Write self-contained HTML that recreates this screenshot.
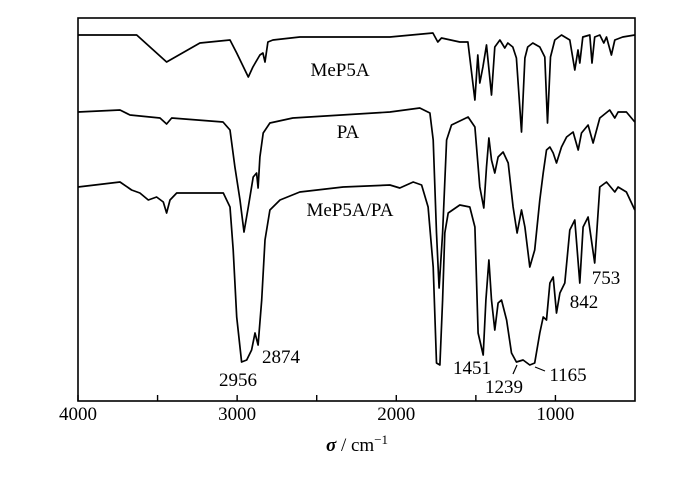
<!DOCTYPE html>
<html><head><meta charset="utf-8">
<style>
html,body{margin:0;padding:0;background:#fff;}
svg{display:block;}
text{font-family:"Liberation Serif","Times New Roman",serif;fill:#000;}
</style></head>
<body>
<svg id="chart" width="700" height="481" viewBox="0 0 700 481" xmlns="http://www.w3.org/2000/svg">
<g id="curves"></g>
<rect x="78" y="18" width="557" height="383" fill="none" stroke="#000" stroke-width="1.6"/>
<g id="xaxis"></g>
<text x="357" y="451" font-size="19" text-anchor="middle"><tspan font-style="italic" font-weight="bold">σ</tspan> / cm<tspan dy="-7" font-size="13">−1</tspan></text>
<g id="labels"></g>
</svg>
<script>
// wavenumber (cm^-1) and transmittance-like values (arbitrary offset units)
const mep5aWn = [4000,3631,3443,3234,3045,3003,2930,2901,2857,2838,2825,2807,2775,2606,2040,1770,1739,1716,1601,1550,1506,1488,1475,1456,1433,1402,1381,1349,1318,1299,1268,1245,1213,1192,1174,1142,1098,1067,1050,1031,1004,962,910,878,858,847,828,784,770,753,721,696,679,648,627,577,501];
const mep5aT  = [366,366,339,358,361,348,324,334,346,348,339,359,361,364,364,368,359,363,359,359,301,346,318,334,356,306,354,361,353,358,354,343,269,343,354,358,354,344,278,344,361,366,361,331,351,338,364,366,338,364,366,358,364,346,361,364,366];
const paWn = [4000,3736,3673,3485,3443,3411,3089,3045,3014,2982,2957,2930,2899,2878,2868,2857,2836,2794,2650,2040,1852,1789,1768,1747,1731,1709,1684,1653,1549,1506,1475,1450,1433,1418,1402,1381,1360,1329,1297,1266,1241,1213,1192,1161,1130,1098,1077,1056,1035,1014,993,962,930,889,857,836,795,763,721,659,627,606,554,501];
const paT  = [289,291,286,283,277,283,279,271,234,201,169,194,224,228,213,244,268,278,283,289,293,288,261,168,113,168,261,276,284,274,214,193,234,263,241,228,244,249,238,194,168,191,174,134,151,201,228,251,254,248,238,254,264,269,251,268,276,258,283,291,283,289,289,279];
const mixWn = [4000,3736,3663,3611,3558,3506,3464,3443,3422,3380,3087,3045,3025,3003,2972,2940,2909,2888,2868,2846,2825,2794,2731,2606,2334,2040,1978,1894,1841,1800,1768,1747,1726,1709,1695,1674,1601,1538,1506,1486,1454,1437,1418,1402,1381,1360,1339,1307,1276,1245,1203,1161,1130,1098,1077,1056,1035,1014,993,972,941,910,878,847,826,795,753,721,679,627,606,554,501];
const mixT  = [214,219,211,208,201,204,199,188,201,208,208,194,151,84,39,41,51,68,56,101,161,191,201,209,214,216,213,219,216,194,134,38,36,101,168,188,196,194,174,68,46,101,141,101,71,98,101,81,48,39,41,36,38,68,84,81,118,124,88,108,118,171,181,118,174,184,138,214,219,209,214,209,191];
const xTicks = [4000,3000,2000,1000];
const xMinorTicks = [3500,2500,1500];
const seriesNames = ["MeP5A","PA","MeP5A/PA"];

const L=78,R=635,T=18,B=401;
const xS = wn => L + (4000 - wn) * (R - L) / 3500;
const yS = v => B - v * (B - T) / 383;
const NS="http://www.w3.org/2000/svg";

const curves=document.getElementById('curves');
[[mep5aWn,mep5aT,'mep5a-spectrum'],[paWn,paT,'pa-spectrum'],[mixWn,mixT,'mep5a-pa-spectrum']].forEach(s=>{
  const p=document.createElementNS(NS,'path');
  let d='';
  s[0].forEach((w,i)=>{d+=(i?'L':'M')+xS(w).toFixed(1)+','+yS(s[1][i]).toFixed(1);});
  p.setAttribute('d',d);
  p.setAttribute('fill','none');p.setAttribute('stroke','#000');p.setAttribute('stroke-width','1.7');p.setAttribute('stroke-linejoin','round');
  
  
  curves.appendChild(p);
});

const xa=document.getElementById('xaxis');
xTicks.concat(xMinorTicks).forEach(v=>{
  const l=document.createElementNS(NS,'line');
  l.setAttribute('x1',xS(v));l.setAttribute('x2',xS(v));l.setAttribute('y1',B);l.setAttribute('y2',B-6);
  l.setAttribute('stroke','#000');l.setAttribute('stroke-width','1.4');
  
  
  xa.appendChild(l);
});
xTicks.forEach(v=>{
  const t=document.createElementNS(NS,'text');
  t.setAttribute('x',xS(v));t.setAttribute('y',420);t.setAttribute('font-size','19');t.setAttribute('text-anchor','middle');
  t.textContent=v;
  
  
  xa.appendChild(t);
});

const lab=document.getElementById('labels');
const anns=[[seriesNames[0],340,76,'series-label-mep5a'],[seriesNames[1],348,138,'series-label-pa'],[seriesNames[2],350,216,'series-label-mep5a-pa'],
 ['2956',238,386,'peak-2956'],['2874',281,363,'peak-2874'],['1451',472,374,'peak-1451'],['1239',504,393,'peak-1239'],
 ['1165',568,381,'peak-1165'],['842',584,308,'peak-842'],['753',606,284,'peak-753']];
anns.forEach(a=>{
  const t=document.createElementNS(NS,'text');
  t.setAttribute('x',a[1]);t.setAttribute('y',a[2]);t.setAttribute('font-size','19');t.setAttribute('text-anchor','middle');
  t.textContent=a[0];
  
  
  lab.appendChild(t);
});
[[513,374,517,365],[535,367,545,371]].forEach(c=>{
  const l=document.createElementNS(NS,'line');
  l.setAttribute('x1',c[0]);l.setAttribute('y1',c[1]);l.setAttribute('x2',c[2]);l.setAttribute('y2',c[3]);
  l.setAttribute('stroke','#000');l.setAttribute('stroke-width','1.2');
  
  
  lab.appendChild(l);
});
</script>
</body></html>
